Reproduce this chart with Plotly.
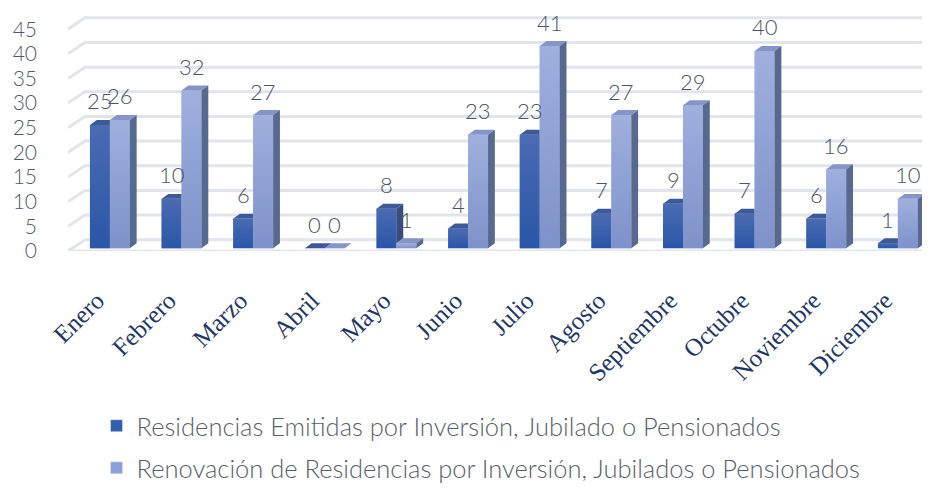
import plotly.graph_objects as go

months = ["Enero", "Febrero", "Marzo", "Abril", "Mayo", "Junio", "Julio",
          "Agosto", "Septiembre", "Octubre", "Noviembre", "Diciembre"]
emitidas = [25, 10, 6, 0, 8, 4, 23, 7, 9, 7, 6, 1]
renovacion = [26, 32, 27, 0, 1, 23, 41, 27, 29, 40, 16, 10]
y_ticks = [0, 5, 10, 15, 20, 25, 30, 35, 40, 45]

name_a = "Residencias Emitidas por Inversión, Jubilado o Pensionados"
name_b = "Renovación de Residencias por Inversión, Jubilados o Pensionados"

BARGAP = 0.443
W = (1 - BARGAP) / 2          # width of one bar in axis units
DX, DY = 0.095, 1.0           # 3-D depth offset (axis units)
FRONT_SHIFT = -0.575          # front floor edge relative to value
BACK_SHIFT = 1.72             # back wall relative to value
LABEL_SHIFT = -0.18           # rotated month labels end at the group centre
X0, X1 = -0.585, 11.49
Y0, Y1 = -0.575, 47.7

C_DARK, C_LIGHT = "#3260AA", "#8EA1D6"
DARK_GRAD = [[0, "#2A56A7"], [1, "#4B6BB2"]]
LIGHT_GRAD = [[0, "#7E92CA"], [1, "#9FB0DE"]]
C_DARK_TOP, C_DARK_SIDE = "#3E5997", "#3A4C7C"
C_LIGHT_TOP, C_LIGHT_SIDE = "#8595C6", "#58698F"

xs = list(range(len(months)))

fig = go.Figure()
fig.add_trace(go.Bar(x=xs, y=emitidas, name=name_a, marker_color=C_DARK,
                     legendgroup="a"))
fig.add_trace(go.Bar(x=xs, y=renovacion, name=name_b, marker_color=C_LIGHT,
                     legendgroup="b"))


def poly_trace(px, py, color):
    return go.Scatter(x=px, y=py, mode="lines", fill="toself", fillcolor=color,
                      line=dict(width=0, color=color), hoverinfo="skip",
                      showlegend=False)


def front_face(left, value, grad):
    """Gradient shading laid on the front face of one bar."""
    return go.Scatter(x=[left, left + W, left + W, left, left],
                      y=[0, 0, value, value, 0],
                      mode="lines", fill="toself", line=dict(width=0),
                      fillgradient=dict(type="vertical", colorscale=grad,
                                        start=0, stop=value),
                      hoverinfo="skip", showlegend=False)


ds_x, ds_y, dt_x, dt_y, lt_x, lt_y, ls_x, ls_y = ([] for _ in range(8))
for i, (d, l) in enumerate(zip(emitidas, renovacion)):
    if d > l:
        ds_x += [i, i, i + DX, i + DX, i, None]
        ds_y += [l, d, d + DY, l + DY, l, None]
    if d >= l:
        dt_x += [i - W, i, i + DX, i - W + DX, i - W, None]
        dt_y += [d, d, d + DY, d + DY, d, None]
    else:
        dt_x += [i - W, i, i, i - W + DX, i - W, None]
        dt_y += [d, d, d + DY, d + DY, d, None]
    lt_x += [i, i + W, i + W + DX, i + DX, i, None]
    lt_y += [l, l, l + DY, l + DY, l, None]
    ls_x += [i + W, i + W + DX, i + W + DX, i + W, i + W, None]
    ls_y += [0, DY, l + DY, l, 0, None]

for i, d in enumerate(emitidas):
    if d > 0:
        fig.add_trace(front_face(i - W, d, DARK_GRAD))
fig.add_trace(poly_trace(ds_x, ds_y, C_DARK_SIDE))
fig.add_trace(poly_trace(dt_x, dt_y, C_DARK_TOP))
for i, l in enumerate(renovacion):
    if l > 0:
        fig.add_trace(front_face(i, l, LIGHT_GRAD))
fig.add_trace(poly_trace(lt_x, lt_y, C_LIGHT_TOP))
fig.add_trace(poly_trace(ls_x, ls_y, C_LIGHT_SIDE))

# gridlines with a perspective back wall
GRID = "#E1E4EB"
shapes = []
for v in y_ticks:
    shapes.append(dict(type="path", xref="x", yref="y", layer="below",
                       path=f"M{X0},{v + FRONT_SHIFT} L-0.348,{v + BACK_SHIFT} L11.45,{v + BACK_SHIFT}",
                       line=dict(color=GRID, width=3)))
shapes.append(dict(type="line", xref="x", yref="y", layer="below",
                   x0=X0, x1=11.45, y0=FRONT_SHIFT, y1=FRONT_SHIFT,
                   line=dict(color=GRID, width=3)))

LABEL_FONT = dict(family="Lato", size=22, color="#4A5568", weight=300)
annotations = []
for i, (d, l) in enumerate(zip(emitidas, renovacion)):
    annotations.append(dict(x=i - W / 2, y=d, text=str(d), showarrow=False,
                            yshift=24, font=LABEL_FONT))
    annotations.append(dict(x=i + W / 2, y=l, text=str(l), showarrow=False,
                            yshift=24, font=LABEL_FONT))

fig.update_layout(
    width=930, height=489,
    margin=dict(l=58, r=5, t=5, b=232),
    paper_bgcolor="white", plot_bgcolor="white",
    barmode="group", bargap=BARGAP, bargroupgap=0,
    shapes=shapes, annotations=annotations,
    xaxis=dict(range=[X0, X1], tickmode="array",
               tickvals=[x + LABEL_SHIFT for x in xs], ticktext=months,
               tickangle=-45, showgrid=False, zeroline=False, showline=False,
               ticklabelstandoff=29,
               tickfont=dict(family="Liberation Serif", size=25, color="#1F3864")),
    yaxis=dict(range=[Y0, Y1], tickmode="array",
               tickvals=[v + FRONT_SHIFT for v in y_ticks],
               ticktext=[str(v) for v in y_ticks],
               showgrid=False, zeroline=False, showline=False,
               ticklabelstandoff=30,
               tickfont=dict(family="Lato", size=21, color="#4F5A6B", weight=300)),
    legend=dict(orientation="v", x=0.033, xanchor="left", y=-0.637, yanchor="top",
                font=dict(family="Lato", size=25.5, color="#595F6B", weight=300),
                tracegroupgap=6, bgcolor="rgba(0,0,0,0)"),
    showlegend=True,
)

fig.write_html("out.html")
